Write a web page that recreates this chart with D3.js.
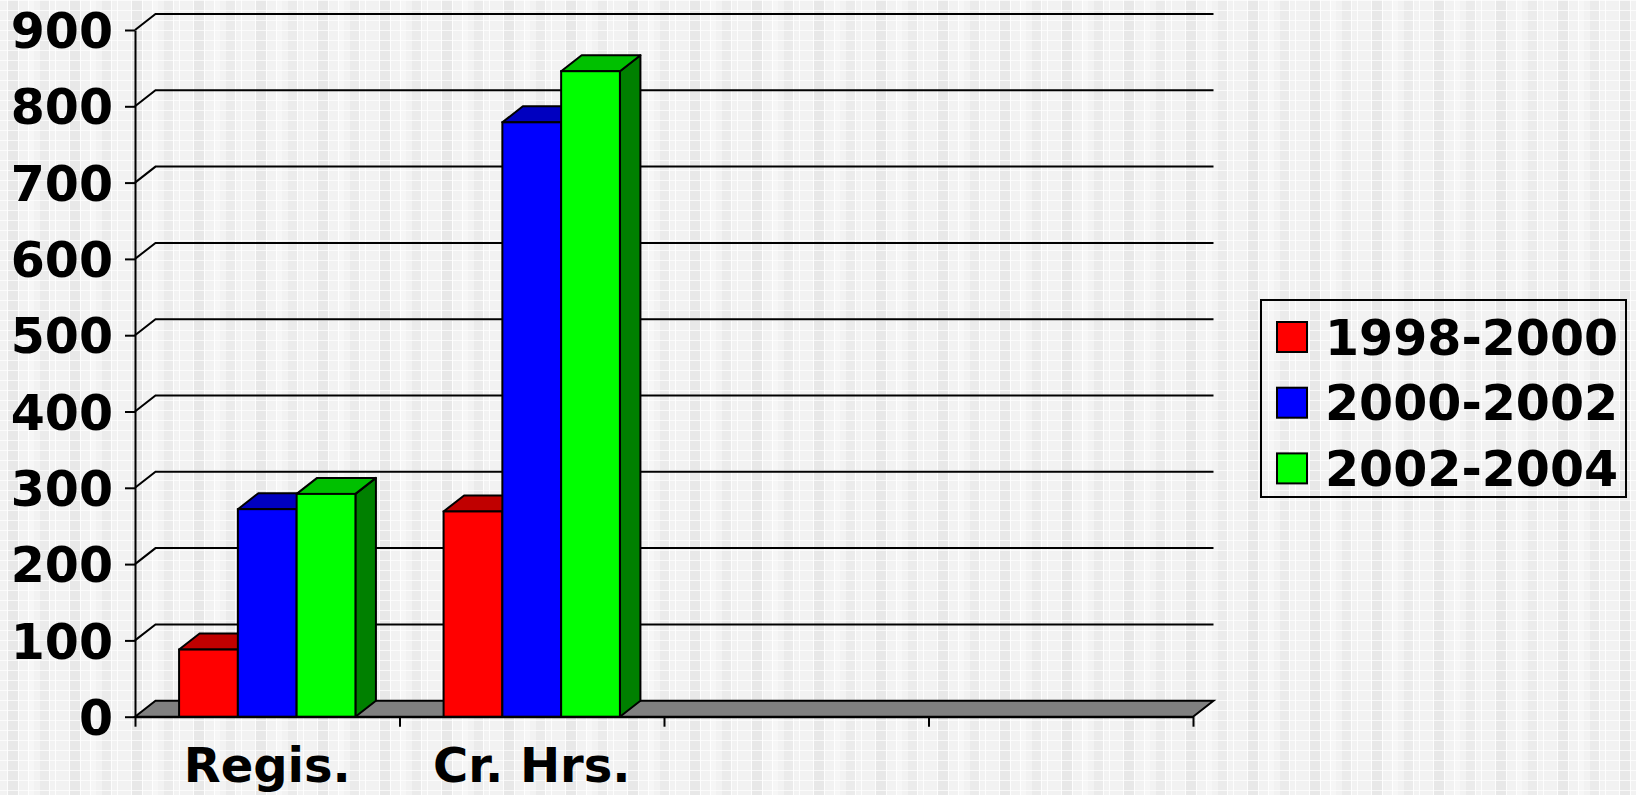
<!DOCTYPE html>
<html>
<head>
<meta charset="utf-8">
<script src="https://cdn.jsdelivr.net/npm/d3@7"></script>
<style>
  html, body { margin: 0; padding: 0; background: #efefef; }
  svg { display: block; }
  text { font-family: "DejaVu Sans", Verdana, sans-serif; font-weight: bold; fill: #000; }
</style>
</head>
<body>
<svg id="myChart" width="1636" height="795"></svg>
<script>
// Data
const categories = ['Regis.', 'Cr. Hrs.', '', ''];
const seriesNames = ['1998-2000', '2000-2002', '2002-2004'];
const s1998 = [88, 269];
const s2000 = [272, 779];
const s2002 = [292, 846];
const yTickValues = [0, 100, 200, 300, 400, 500, 600, 700, 800, 900];

// colours for front / top / side of each series
const frontColors = ['#ff0000', '#0000ff', '#00ff00'];
const topColors = ['#c00000', '#0000c0', '#00c000'];
const sideColors = ['#800000', '#000080', '#008000'];

const svg = d3.select('#myChart');

// soft plaid background
const defs = svg.append('defs');
const pat = defs.append('pattern')
  .attr('id', 'plaid')
  .attr('patternUnits', 'userSpaceOnUse')
  .attr('width', 62).attr('height', 20);
pat.append('rect').attr('width', 62).attr('height', 20).attr('fill', '#f2f2f2');
[[8, 10, '#e8e8e8'], [40, 9, '#ebebeb'], [28, 6, '#f6f6f6']].forEach(([x, w, c]) => {
  pat.append('rect').attr('x', x).attr('width', w).attr('height', 20).attr('fill', c);
});
[7, 18, 28, 49, 55].forEach(p => {
  pat.append('rect').attr('x', p).attr('width', 1).attr('height', 20).attr('fill', '#fff').attr('opacity', 0.85);
});
[0, 10].forEach(p => {
  pat.append('rect').attr('y', p).attr('width', 62).attr('height', 1).attr('fill', '#fff').attr('opacity', 0.7);
});
svg.append('rect').attr('width', 1636).attr('height', 795).attr('fill', 'url(#plaid)');

// depth of the 3d effect
const dx = 20.5, dy = -16;

const yScale = d3.scaleLinear()
  .domain([0, 900])
  .range([716.7, 30]);

const xScale = d3.scaleBand()
  .domain(d3.range(categories.length))
  .range([135, 1193])
  .paddingInner(0)
  .paddingOuter(0);

const barScale = d3.scaleBand()
  .domain(seriesNames)
  .range([0, xScale.bandwidth()])
  .paddingInner(0)
  .paddingOuter(0.75);

const x0 = xScale.range()[0], x1 = xScale.range()[1];

// back wall grid lines
const chart = svg.append('g').attr('class', 'chart');
chart.selectAll('.grid')
  .data(yTickValues.filter(v => v > 0))
  .enter()
  .append('path')
    .attr('class', 'grid')
    .attr('d', v => `M${x0},${yScale(v)}L${x0 + dx},${yScale(v) + dy}L${x1 + dx},${yScale(v) + dy}`)
    .attr('fill', 'none')
    .attr('stroke', '#000')
    .attr('stroke-width', 2);

// floor
const y0 = yScale(0);
chart.append('path')
  .attr('d', `M${x0},${y0}L${x0 + dx},${y0 + dy}L${x1 + dx},${y0 + dy}L${x1},${y0}Z`)
  .attr('fill', '#808080')
  .attr('stroke', '#000')
  .attr('stroke-width', 2);

// build bar table
const table = [];
[s1998, s2000, s2002].forEach((vals, si) => {
  vals.forEach((v, ci) => table.push({ cat: ci, series: si, value: v }));
});
table.sort((a, b) => a.cat - b.cat || a.series - b.series);

const bars = chart.selectAll('.bar')
  .data(table)
  .enter()
  .append('g')
    .attr('class', 'bar');

const bx = d => xScale(d.cat) + barScale(seriesNames[d.series]);
const bw = barScale.bandwidth();

bars.append('path') // side
  .attr('d', d => {
    const x = bx(d) + bw, t = yScale(d.value);
    return `M${x},${t}L${x + dx},${t + dy}L${x + dx},${y0 + dy}L${x},${y0}Z`;
  })
  .attr('fill', d => sideColors[d.series])
  .attr('stroke', '#000').attr('stroke-width', 2).attr('stroke-linejoin', 'round');

bars.append('path') // top
  .attr('d', d => {
    const x = bx(d), t = yScale(d.value);
    return `M${x},${t}L${x + dx},${t + dy}L${x + bw + dx},${t + dy}L${x + bw},${t}Z`;
  })
  .attr('fill', d => topColors[d.series])
  .attr('stroke', '#000').attr('stroke-width', 2).attr('stroke-linejoin', 'round');

bars.append('rect') // front
  .attr('x', bx)
  .attr('y', d => yScale(d.value))
  .attr('width', bw)
  .attr('height', d => y0 - yScale(d.value))
  .attr('fill', d => frontColors[d.series])
  .attr('stroke', '#000').attr('stroke-width', 2);

// y axis
const yAxis = svg.append('g')
  .attr('class', 'axis axis-y')
  .attr('transform', 'translate(135,0)')
  .call(d3.axisLeft(yScale).tickValues(yTickValues).tickSize(10).tickSizeOuter(0).tickPadding(12));
yAxis.selectAll('path, line').attr('stroke', '#000').attr('stroke-width', 2);
yAxis.selectAll('text')
  .attr('dy', '0.36em')
  .style('font-size', '49px')
  .style('font-family', '"DejaVu Sans", Verdana, sans-serif')
  .style('font-weight', 'bold');

// x axis: lines at band edges, labels at band centres
const edgeScale = d3.scaleLinear().domain([0, categories.length]).range([x0, x1]);
const xAxis = svg.append('g')
  .attr('class', 'axis axis-x')
  .attr('transform', `translate(0,${y0})`)
  .call(d3.axisBottom(edgeScale).ticks(categories.length).tickFormat('').tickSize(10).tickSizeOuter(0));
xAxis.selectAll('path, line').attr('stroke', '#000').attr('stroke-width', 2);

svg.append('g')
  .selectAll('.cat-label')
  .data(categories)
  .enter()
  .append('text')
    .attr('class', 'cat-label')
    .attr('x', (d, i) => xScale(i) + xScale.bandwidth() / 2)
    .attr('y', 782)
    .attr('text-anchor', 'middle')
    .style('font-size', '48px')
    .text(d => d);

// legend
const legend = svg.append('g').attr('class', 'legend');
legend.append('rect')
  .attr('x', 1261).attr('y', 300)
  .attr('width', 365).attr('height', 197)
  .attr('fill', 'none')
  .attr('stroke', '#000')
  .attr('stroke-width', 2);

const items = legend.selectAll('.item')
  .data(seriesNames)
  .enter()
  .append('g')
    .attr('class', 'item')
    .attr('transform', (d, i) => `translate(1277,${322 + i * 65.7})`);
items.append('rect')
  .attr('width', 30).attr('height', 30)
  .attr('fill', (d, i) => frontColors[i])
  .attr('stroke', '#000').attr('stroke-width', 2);
items.append('text')
  .attr('x', 48)
  .attr('y', 15)
  .attr('dy', '0.36em')
  .style('font-size', '49px')
  .text(d => d);
</script>
</body>
</html>
